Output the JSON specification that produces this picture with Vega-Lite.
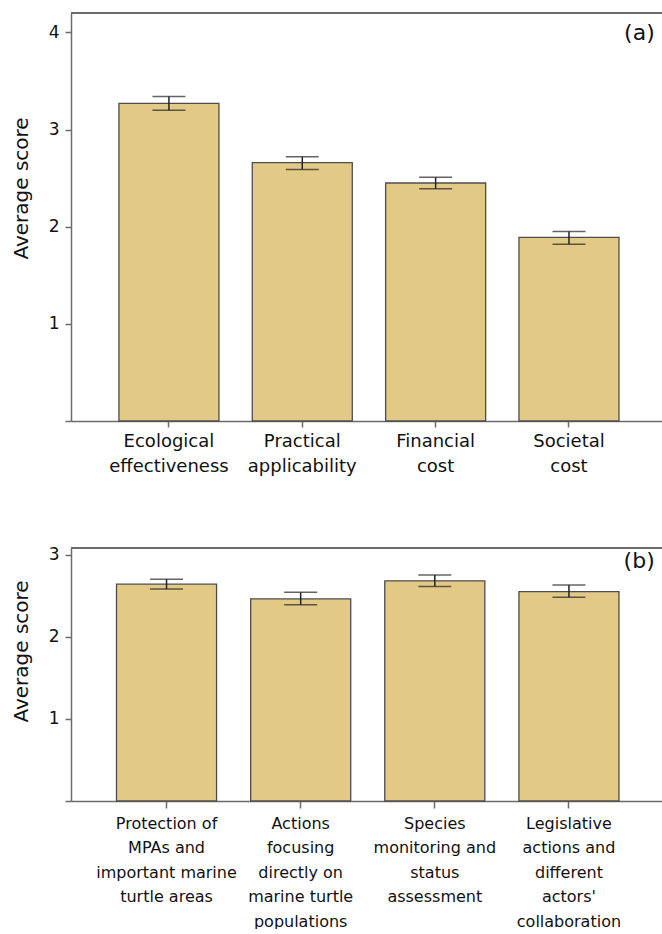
{
  "$schema": "https://vega.github.io/schema/vega-lite/v6.json",
  "padding": {"left": 11, "top": 12, "right": 0, "bottom": 0},
  "spacing": 70,
  "background": "white",
  "config": {
    "view": {"stroke": null},
    "axis": {
      "grid": false,
      "domainColor": "#6b6b6b",
      "domainWidth": 1.5,
      "tickColor": "#6b6b6b",
      "tickWidth": 1.5,
      "labelColor": "#111111",
      "titleColor": "#111111",
      "labelFont": "DejaVu Sans",
      "titleFont": "DejaVu Sans",
      "titleFontWeight": "normal"
    },
    "title": {"font": "DejaVu Sans", "fontWeight": "normal", "color": "#111111"}
  },
  "vconcat": [
    {
      "width": 591,
      "height": 408,
      "data": {"values": [
        {"cat": "Ecological|effectiveness", "mean": 3.27, "lo": 3.20, "hi": 3.34},
        {"cat": "Practical|applicability", "mean": 2.66, "lo": 2.59, "hi": 2.72},
        {"cat": "Financial|cost", "mean": 2.45, "lo": 2.39, "hi": 2.51},
        {"cat": "Societal|cost", "mean": 1.89, "lo": 1.82, "hi": 1.95}
      ]},
      "title": {"text": "(a)", "anchor": "end", "offset": -33, "dx": -8, "fontSize": 22},
      "layer": [
        {
          "mark": {"type": "bar", "fill": "#E2CA86", "stroke": "#4d4d4d", "strokeWidth": 1.3},
          "encoding": {
            "x": {
              "field": "cat", "type": "nominal", "sort": null,
              "scale": {"paddingInner": 0.25, "paddingOuter": 0.341, "align": 0.527, "round": false},
              "axis": {"title": null, "labelAngle": 0, "labelExpr": "split(datum.label, '|')", "labelFontSize": 18, "labelLineHeight": 25, "tickSize": 6, "labelPadding": 5, "labelLimit": 300}
            },
            "y": {
              "field": "mean", "type": "quantitative",
              "scale": {"domain": [0, 4.2], "nice": false, "zero": true},
              "axis": {"title": "Average score", "titleFontSize": 20, "titlePadding": 17, "titleY": 175, "values": [0, 1, 2, 3, 4], "format": "d", "labelExpr": "datum.value == 0 ? '' : datum.label", "labelFontSize": 17, "tickSize": 6, "labelPadding": 6}
            }
          }
        },
        {
          "mark": {"type": "rule", "color": "#222222", "strokeWidth": 1.5},
          "encoding": {
            "x": {"field": "cat", "type": "nominal", "sort": null},
            "y": {"field": "lo", "type": "quantitative"}, "y2": {"field": "hi"}
          }
        },
        {
          "mark": {"type": "tick", "color": "#222222", "size": 33, "thickness": 1.5},
          "encoding": {
            "x": {"field": "cat", "type": "nominal", "sort": null},
            "y": {"field": "lo", "type": "quantitative"}
          }
        },
        {
          "mark": {"type": "tick", "color": "#222222", "size": 33, "thickness": 1.5},
          "encoding": {
            "x": {"field": "cat", "type": "nominal", "sort": null},
            "y": {"field": "hi", "type": "quantitative"}
          }
        },
        {
          "mark": {"type": "rule", "color": "#6b6b6b", "strokeWidth": 1.5},
          "encoding": {"y": {"datum": 4.2, "type": "quantitative"}}
        }
      ]
    },
    {
      "width": 591,
      "height": 253,
      "data": {"values": [
        {"cat": "Protection of|MPAs and|important marine|turtle areas", "mean": 2.64, "lo": 2.58, "hi": 2.70},
        {"cat": "Actions|focusing|directly on|marine turtle|populations", "mean": 2.46, "lo": 2.39, "hi": 2.54},
        {"cat": "Species|monitoring and|status|assessment", "mean": 2.68, "lo": 2.61, "hi": 2.75},
        {"cat": "Legislative|actions and|different|actors'|collaboration", "mean": 2.55, "lo": 2.48, "hi": 2.63}
      ]},
      "title": {"text": "(b)", "anchor": "end", "offset": -27, "dx": -8, "fontSize": 22},
      "layer": [
        {
          "mark": {"type": "bar", "fill": "#E2CA86", "stroke": "#4d4d4d", "strokeWidth": 1.3},
          "encoding": {
            "x": {
              "field": "cat", "type": "nominal", "sort": null,
              "scale": {"paddingInner": 0.254, "paddingOuter": 0.33, "align": 0.514, "round": false},
              "axis": {"title": null, "labelAngle": 0, "labelExpr": "split(datum.label, '|')", "labelFontSize": 16, "labelLineHeight": 24.5, "tickSize": 7, "labelPadding": 7, "labelLimit": 300}
            },
            "y": {
              "field": "mean", "type": "quantitative",
              "scale": {"domain": [0, 3.08], "nice": false, "zero": true},
              "axis": {"title": "Average score", "titleFontSize": 20, "titlePadding": 17, "titleY": 103, "values": [0, 1, 2, 3], "format": "d", "labelExpr": "datum.value == 0 ? '' : datum.label", "labelFontSize": 17, "tickSize": 6, "labelPadding": 6}
            }
          }
        },
        {
          "mark": {"type": "rule", "color": "#222222", "strokeWidth": 1.5},
          "encoding": {
            "x": {"field": "cat", "type": "nominal", "sort": null},
            "y": {"field": "lo", "type": "quantitative"}, "y2": {"field": "hi"}
          }
        },
        {
          "mark": {"type": "tick", "color": "#222222", "size": 33, "thickness": 1.5},
          "encoding": {
            "x": {"field": "cat", "type": "nominal", "sort": null},
            "y": {"field": "lo", "type": "quantitative"}
          }
        },
        {
          "mark": {"type": "tick", "color": "#222222", "size": 33, "thickness": 1.5},
          "encoding": {
            "x": {"field": "cat", "type": "nominal", "sort": null},
            "y": {"field": "hi", "type": "quantitative"}
          }
        },
        {
          "mark": {"type": "rule", "color": "#6b6b6b", "strokeWidth": 1.5},
          "encoding": {"y": {"datum": 3.08, "type": "quantitative"}}
        }
      ]
    }
  ]
}
